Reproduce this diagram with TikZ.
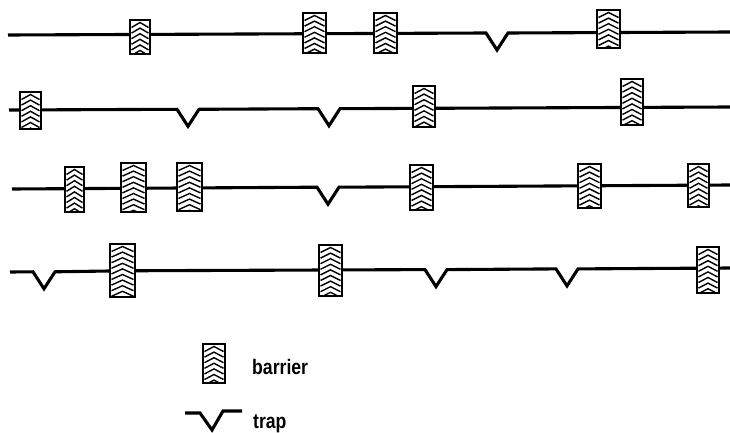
\documentclass[tikz,border=0pt]{standalone}
\usepackage{fontspec}
\newfontfamily\legendfont[FakeStretch=0.84]{Liberation Sans}
\usetikzlibrary{calc}

% trap notch cut into a track: #1 = x of the tip, #2 = y of the track
\newcommand{\trapnotch}[2]{-- ({#1-11},{#2}) -- ({#1},{#2+17}) -- ({#1+11},{#2})}

\tikzset{
  track/.style={line width=3.1pt, line join=miter, line cap=butt},
  barrier/.style={rectangle, draw, line width=1.8pt, fill=white, inner sep=0pt,
    path picture={
      \foreach \k in {0,...,11}{
        \draw[line width=1.4pt]
          ([shift={(1.5pt,-7.5pt-5.6pt*\k)}]path picture bounding box.north west)
          -- ([shift={(0pt,-2.5pt-5.6pt*\k)}]path picture bounding box.north)
          -- ([shift={(-1.5pt,-7.5pt-5.6pt*\k)}]path picture bounding box.north east);
      }
    }},
  legendtext/.style={font=\legendfont\bfseries\fontsize{21}{21}\selectfont, inner sep=0pt}
}

\begin{document}
\begin{tikzpicture}[x=1pt,y=-1pt]
\useasboundingbox (0,0) rectangle (730,433);

% ---- track ends
\coordinate (s1) at (8,35);   \coordinate (e1) at (730,32);
\coordinate (s2) at (9,110);  \coordinate (e2) at (730,107);
\coordinate (s3) at (12,189); \coordinate (e3) at (730,185);
\coordinate (s4) at (10,272); \coordinate (e4) at (730,268);

% ---- tracks with their traps
\draw[track] (s1) \trapnotch{497}{33} -- (e1);
\draw[track] (s2) \trapnotch{188}{109.3} \trapnotch{329}{108.7} -- (e2);
\draw[track] (s3) \trapnotch{328}{187.2} -- (e3);
\draw[track] (s4) \trapnotch{44}{271.8} -- ({122.5},{270.8}) \trapnotch{436}{269.6} \trapnotch{567}{268.9} -- (e4);

% ---- barriers, row 1
\node[barrier, minimum width=20pt, minimum height=34pt] (b11) at (140,37) {};
\node[barrier, minimum width=23pt, minimum height=40pt] (b12) at (314.5,33) {};
\node[barrier, minimum width=23pt, minimum height=40pt] (b13) at (385.5,33) {};
\node[barrier, minimum width=23pt, minimum height=38pt] (b14) at (608.5,29) {};

% ---- barriers, row 2
\node[barrier, minimum width=21pt, minimum height=37pt] (b21) at (30.5,110.5) {};
\node[barrier, minimum width=22pt, minimum height=41pt] (b22) at (424,106.5) {};
\node[barrier, minimum width=22pt, minimum height=46pt] (b23) at (632,102) {};

% ---- barriers, row 3
\node[barrier, minimum width=19pt, minimum height=45pt] (b31) at (74.5,189.5) {};
\node[barrier, minimum width=25pt, minimum height=49pt] (b32) at (133.5,187.5) {};
\node[barrier, minimum width=25pt, minimum height=48pt] (b33) at (189.5,187) {};
\node[barrier, minimum width=23pt, minimum height=45pt] (b34) at (421.5,187.5) {};
\node[barrier, minimum width=23pt, minimum height=44pt] (b35) at (589.5,186) {};
\node[barrier, minimum width=21pt, minimum height=43pt] (b36) at (698.5,185.5) {};

% ---- barriers, row 4
\node[barrier, minimum width=25pt, minimum height=53pt] (b41) at (122.5,270.5) {};
\node[barrier, minimum width=23pt, minimum height=51pt] (b42) at (330.5,270.5) {};
\node[barrier, minimum width=22pt, minimum height=46pt] (b43) at (708,270) {};

% ---- legend
\node[barrier, minimum width=22pt, minimum height=39pt] (keyb) at (214,363.5) {};
\node[legendtext, anchor=base west] (keybt) at (252,374) {barrier};

\coordinate (kt1) at (185,413);
\coordinate (kt2) at (242,411);
\draw[track] (kt1) -- (200,413) -- (212,430) -- (223,411) -- (kt2);
\node[legendtext, anchor=base west] (keytt) at (253,428) {trap};
\end{tikzpicture}
\end{document}
